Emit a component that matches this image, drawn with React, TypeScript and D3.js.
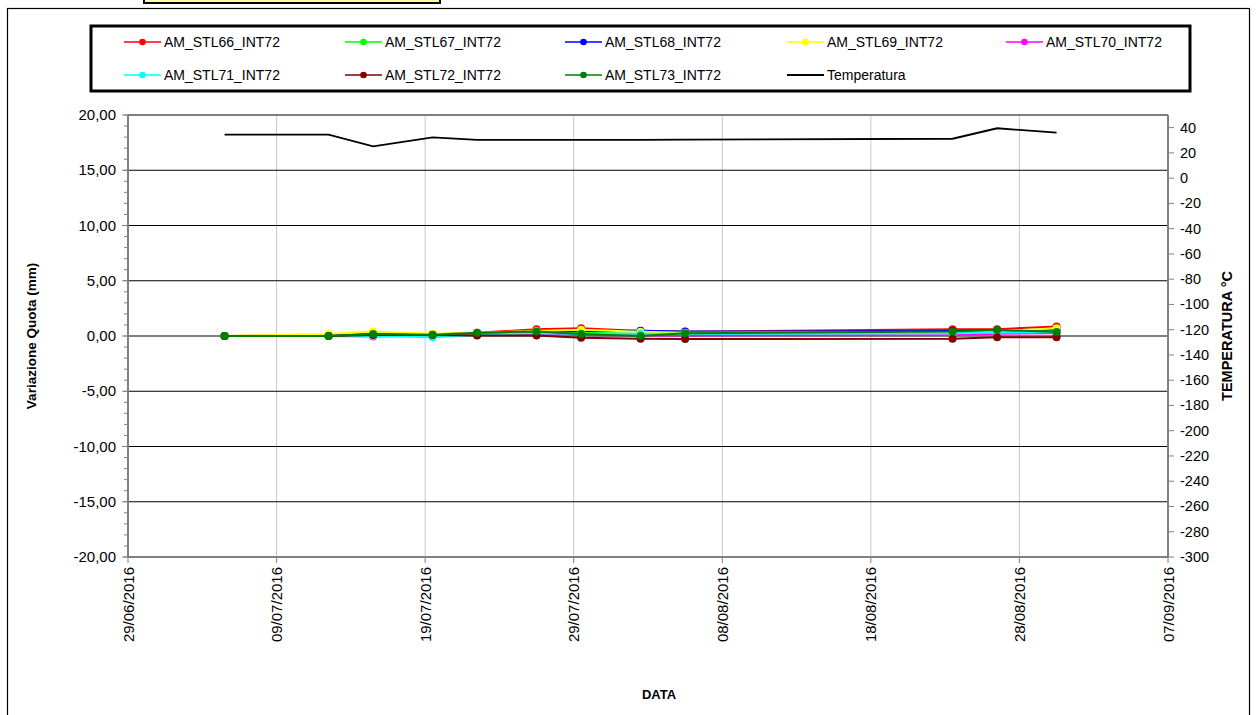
import React from "react";
import * as d3 from "d3";

const dates = [
  "2016-07-05T12:00", "2016-07-12T12:00", "2016-07-15T12:00", "2016-07-19T12:00",
  "2016-07-22T12:00", "2016-07-26T12:00", "2016-07-29T12:00", "2016-08-02T12:00",
  "2016-08-05T12:00", "2016-08-23T12:00", "2016-08-26T12:00", "2016-08-30T12:00",
];

const seriesNames = [
  "AM_STL66_INT72", "AM_STL67_INT72", "AM_STL68_INT72", "AM_STL69_INT72",
  "AM_STL70_INT72", "AM_STL71_INT72", "AM_STL72_INT72", "AM_STL73_INT72",
];
const seriesColors = ["#ff0000", "#00ff00", "#0000ff", "#ffff00", "#ff00ff", "#00ffff", "#800000", "#008000"];

const stl66 = [0, 0.05, 0.2, 0.15, 0.3, 0.6, 0.7, 0.45, 0.38, 0.6, 0.62, 0.85];
const stl67 = [0, 0.02, 0.15, 0.1, 0.25, 0.35, 0.3, 0.2, 0.2, 0.3, 0.4, 0.5];
const stl68 = [0, 0.03, 0.15, 0.1, 0.25, 0.4, 0.45, 0.48, 0.4, 0.45, 0.5, 0.6];
const stl69 = [0, 0.18, 0.4, 0.2, 0.3, 0.45, 0.57, 0.38, 0.3, 0.35, 0.45, 0.7];
const stl70 = [0, 0.0, -0.05, 0.05, 0.15, 0.2, 0.1, 0.05, 0.05, 0.1, 0.2, 0.25];
const stl71 = [0, 0.0, 0.0, -0.12, 0.1, 0.25, 0.2, 0.2, 0.2, 0.25, 0.3, 0.35];
const stl72 = [0, 0.0, 0.1, 0.1, 0.05, 0.05, -0.15, -0.25, -0.27, -0.25, -0.12, -0.12];
const stl73 = [0, 0.0, 0.18, 0.12, 0.3, 0.4, 0.18, 0.0, 0.24, 0.4, 0.55, 0.36];
const seriesValues = [stl66, stl67, stl68, stl69, stl70, stl71, stl72, stl73];

const temperature = [34.5, 34.5, 25.2, 32.3, 30.3, 30.3, 30.3, 30.3, 30.5, 31.2, 39.5, 36];

const leftTicks = [20, 15, 10, 5, 0, -5, -10, -15, -20];
const rightTicks = d3.range(-300, 41, 20);
const xTickDates = ["2016-06-29", "2016-07-09", "2016-07-19", "2016-07-29", "2016-08-08", "2016-08-18", "2016-08-28", "2016-09-07"];

const FONT = "'Liberation Sans', Arial, sans-serif";

export default function App() {
  const parse = (s: string) => new Date(s.length > 10 ? s : s + "T00:00");
  const x = d3.scaleTime().domain([parse("2016-06-29"), parse("2016-09-07")]).range([128, 1168]);
  const yL = d3.scaleLinear().domain([-20, 20]).range([557, 115]);
  const yR = d3.scaleLinear().domain([-300, 50]).range([557, 115]);
  const loc = d3.formatLocale({ decimal: ",", thousands: ".", grouping: [3], currency: ["", ""], minus: "-" });
  const fL = loc.format(".2f");
  const fR = loc.format("d");
  const fD = d3.timeFormat("%d/%m/%Y");
  const dd = dates.map(parse);

  const line = d3.line<[Date, number]>().x((d) => x(d[0])).y((d) => yL(d[1]));
  const lineT = d3.line<[Date, number]>().x((d) => x(d[0])).y((d) => yR(d[1]));

  const minorTicks = d3.range(-20, 20.01, 1);
  const legendCols = [124, 345, 565, 787, 1006];
  const legendRows = [42, 75];
  const legendItems = [...seriesNames.map((n, i) => ({ name: n, color: seriesColors[i], marker: true })), { name: "Temperatura", color: "#000", marker: false }];

  return (
    <svg width={1256} height={715} style={{ position: "absolute", left: 0, top: 0, background: "#fff" }} fontFamily={FONT}>
      <rect x={0} y={0} width={1256} height={715} fill="#fff" />
      <rect x={7.5} y={8.5} width={1242} height={720} fill="none" stroke="#000" strokeWidth={1.2} />
      <rect x={144} y={-10} width={296} height={13} fill="#ffff99" stroke="#000" strokeWidth={2} />

      {/* legend */}
      <rect x={91} y={26} width={1099} height={65} fill="#fff" stroke="#000" strokeWidth={3} />
      {legendItems.map((it, i) => {
        const cx = legendCols[i % 5];
        const cy = legendRows[Math.floor(i / 5)];
        return (
          <g key={it.name}>
            <line x1={cx} x2={cx + 37} y1={cy} y2={cy} stroke={it.color} strokeWidth={it.marker ? 1.5 : 2} />
            {it.marker && <circle cx={cx + 18.5} cy={cy} r={3.3} fill={it.color} />}
            <text x={cx + 40} y={cy + 5} fontSize={14} fill="#000">{it.name}</text>
          </g>
        );
      })}

      {/* vertical grid */}
      {xTickDates.map((s) => (
        <line key={s} x1={x(parse(s))} x2={x(parse(s))} y1={115} y2={557} stroke="#c8c8c8" strokeWidth={1} />
      ))}
      {/* horizontal grid */}
      {leftTicks.filter((t) => t !== 20 && t !== -20).map((t) => (
        <line key={t} x1={128} x2={1168} y1={yL(t)} y2={yL(t)} stroke="#000" strokeWidth={1} />
      ))}

      {/* plot frame */}
      <line x1={128} x2={1168} y1={115} y2={115} stroke="#808080" strokeWidth={2} />
      <line x1={128} x2={1168} y1={557} y2={557} stroke="#808080" strokeWidth={2} />
      <line x1={128} x2={128} y1={115} y2={557} stroke="#808080" strokeWidth={2} />
      <line x1={1168} x2={1168} y1={115} y2={557} stroke="#808080" strokeWidth={2} />

      {/* left ticks */}
      {minorTicks.map((t) => (
        <line key={"m" + t} x1={124} x2={128} y1={yL(t)} y2={yL(t)} stroke="#808080" strokeWidth={1} />
      ))}
      {leftTicks.map((t) => (
        <g key={"l" + t}>
          <line x1={122} x2={128} y1={yL(t)} y2={yL(t)} stroke="#808080" strokeWidth={1} />
          <text x={116} y={yL(t) + 5} textAnchor="end" fontSize={15} fill="#000">{fL(t)}</text>
        </g>
      ))}

      {/* right ticks */}
      {rightTicks.map((t) => (
        <g key={"r" + t}>
          <line x1={1168} x2={1174} y1={yR(t)} y2={yR(t)} stroke="#808080" strokeWidth={1} />
          <text x={1180} y={yR(t) + 5} textAnchor="start" fontSize={14.5} fill="#000">{fR(t)}</text>
        </g>
      ))}

      {/* x ticks */}
      {xTickDates.map((s) => {
        const px = x(parse(s));
        return (
          <g key={"x" + s}>
            <line x1={px} x2={px} y1={557} y2={563} stroke="#808080" strokeWidth={1} />
            <text transform={`translate(${px + 5.5},${567}) rotate(-90)`} textAnchor="end" fontSize={15} fill="#000">{fD(parse(s))}</text>
          </g>
        );
      })}

      {/* axis titles */}
      <text transform={`translate(36,336) rotate(-90)`} textAnchor="middle" fontSize={13.5} fontWeight="bold" fill="#000">Variazione Quota (mm)</text>
      <text transform={`translate(1232,336) rotate(-90)`} textAnchor="middle" fontSize={14.5} fontWeight="bold" fill="#000">TEMPERATURA °C</text>
      <text x={659} y={699} textAnchor="middle" fontSize={13} fontWeight="bold" fill="#000">DATA</text>

      {/* temperature */}
      <path d={lineT(dd.map((d, i) => [d, temperature[i]]) as [Date, number][]) || ""} fill="none" stroke="#000" strokeWidth={1.8} />

      {/* series */}
      {seriesValues.map((vals, si) => (
        <g key={seriesNames[si]}>
          <path d={line(dd.map((d, i) => [d, vals[i]]) as [Date, number][]) || ""} fill="none" stroke={seriesColors[si]} strokeWidth={2} />
          {vals.map((v, i) => (
            <circle key={i} cx={x(dd[i])} cy={yL(v)} r={4} fill={seriesColors[si]} />
          ))}
        </g>
      ))}
    </svg>
  );
}
